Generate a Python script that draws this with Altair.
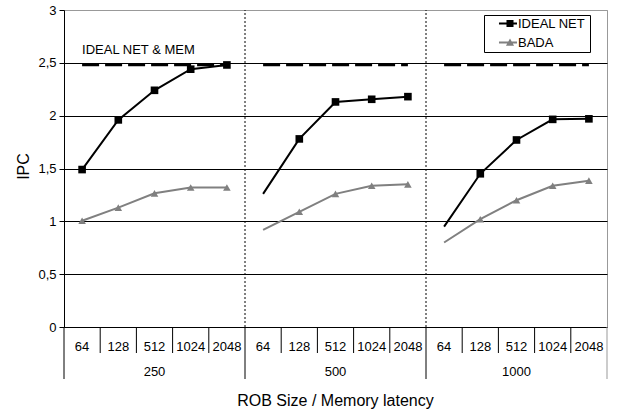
import altair as alt
import pandas as pd

# ROB sizes (inner axis level) and memory latencies (outer axis level)
rob_sizes = ["64", "128", "512", "1024", "2048"]
latencies = ["250", "500", "1000"]

# IPC per configuration, latency groups in order
ideal_net = [1.49, 1.96, 2.24, 2.44, 2.48,
             1.26, 1.78, 2.13, 2.155, 2.18,
             0.95, 1.45, 1.77, 1.965, 1.97]
bada = [1.005, 1.13, 1.265, 1.32, 1.32,
        0.92, 1.09, 1.26, 1.337, 1.35,
        0.80, 1.02, 1.20, 1.337, 1.385]
# upper bound: ideal network and ideal memory, one value per latency group
ideal_net_mem = [2.48, 2.48, 2.48]

# points drawn without a marker
unmarked = [("500", "64"), ("1000", "64")]

series_names = ["IDEAL NET", "BADA"]
series_colors = ["#000000", "#808080"]

FONT = "Liberation Sans"

rows = []
for g, lat in enumerate(latencies):
    for r, rob in enumerate(rob_sizes):
        i = g * 5 + r
        for name, vals in zip(series_names, [ideal_net, bada]):
            rows.append({
                "latency": lat, "rob": rob, "pos": i + 0.5,
                "series": name, "ipc": vals[i],
                "marked": (lat, rob) not in unmarked,
            })
df = pd.DataFrame(rows)

mem_rows = []
for g, lat in enumerate(latencies):
    for r in (0, 4):
        mem_rows.append({"latency": lat, "pos": g * 5 + r + 0.5, "ipc": ideal_net_mem[g]})
mem_df = pd.DataFrame(mem_rows)

inner_labels = pd.DataFrame({
    "pos": [g * 5 + r + 0.5 for g in range(3) for r in range(5)],
    "label": [rob for _ in latencies for rob in rob_sizes],
})
outer_labels = pd.DataFrame({
    "pos": [g * 5 + 2.5 for g in range(3)],
    "label": latencies,
})
inner_bounds = pd.DataFrame({"pos": [b for b in range(1, 15) if b % 5 != 0]})
outer_bounds = pd.DataFrame({"pos": [0, 5, 10, 15],
                             "col": ["#000000", "#000000", "#000000", "#999999"]})
group_bounds = pd.DataFrame({"pos": [5, 10], "lo": [0, 0], "hi": [3, 3]})

xscale = alt.Scale(domain=[0, 15], nice=False, zero=False)
yscale = alt.Scale(domain=[0, 3], nice=False)

x_enc = alt.X("pos:Q", scale=xscale,
              axis=alt.Axis(labels=False, ticks=False, grid=False, domain=True,
                            domainColor="black", title="ROB Size / Memory latency",
                            titleFont=FONT, titleFontSize=16, titleFontWeight="normal",
                            titleColor="black", titleX=271, titleY=78,
                            titleBaseline="alphabetic", titleAlign="center"))
y_enc = alt.Y("ipc:Q", scale=yscale,
              axis=alt.Axis(values=[0, 0.5, 1, 1.5, 2, 2.5, 3],
                            labelExpr="replace(toString(datum.value), '.', ',')",
                            labelFont=FONT, labelFontSize=13, labelColor="black",
                            labelPadding=3, tickSize=5, tickColor="black",
                            domainColor="black", grid=True,
                            gridColor={"condition": {"test": "datum.value == 3", "value": "#999999"},
                                       "value": "#000000"},
                            gridWidth=1, title="IPC", titleFont=FONT, titleFontSize=16,
                            titleFontWeight="normal", titleColor="black",
                            titleX=-36, titleY=156, titleBaseline="alphabetic",
                            titleAlign="center", titleAngle=-90))

base = alt.Chart(df)

dotted = alt.Chart(group_bounds).mark_rule(color="black", strokeWidth=1, strokeDash=[2, 2]).encode(
    x=alt.X("pos:Q", scale=xscale), y=alt.Y("lo:Q", scale=yscale), y2="hi:Q")

mem_line = alt.Chart(mem_df).mark_line(color="black", strokeWidth=2.8, strokeDash=[17, 6]).encode(
    x=x_enc, y=y_enc, detail="latency:N")

line_layers = []
marker_layers = []
for name, col, shape, size in zip(series_names, series_colors,
                                  ["square", "triangle-up"], [58, 58]):
    sub = base.transform_filter(alt.datum.series == name)
    line_layers.append(sub.mark_line(color=col, strokeWidth=2).encode(
        x=x_enc, y=y_enc, detail="latency:N"))
    marker_layers.append(sub.transform_filter(alt.datum.marked).mark_point(
        filled=True, color=col, shape=shape, size=size, opacity=1).encode(x=x_enc, y=y_enc))

annot = alt.Chart(pd.DataFrame({"pos": [0.5], "ipc": [2.58], "t": ["IDEAL NET & MEM"]})).mark_text(
    align="left", baseline="alphabetic", font=FONT, fontSize=13, color="black").encode(
    x=x_enc, y=y_enc, text="t:N")

inner_ticks = alt.Chart(inner_bounds).mark_rule(color="black", strokeWidth=1).encode(
    x=alt.X("pos:Q", scale=xscale), y=alt.value(317), y2=alt.value(343))
outer_ticks = alt.Chart(outer_bounds).mark_rule(strokeWidth=1).encode(
    x=alt.X("pos:Q", scale=xscale), y=alt.value(317), y2=alt.value(369),
    color=alt.Color("col:N", scale=None))

inner_text = alt.Chart(inner_labels).mark_text(font=FONT, fontSize=13, color="black",
                                               baseline="alphabetic").encode(
    x=alt.X("pos:Q", scale=xscale), y=alt.value(340.5), text="label:N")
outer_text = alt.Chart(outer_labels).mark_text(font=FONT, fontSize=13, color="black",
                                               baseline="alphabetic").encode(
    x=alt.X("pos:Q", scale=xscale), y=alt.value(366), text="label:N")

# legend symbols: short line with the series marker on it
sym_square = "M1.44,-0.22H5.44V0.22H1.44Z M3.11,-0.78H4.67V0.78H3.11Z"
sym_tri = "M1.44,-0.22H5.44V0.22H1.44Z M3.89,-0.9L4.79,0.7H2.99Z"
leg = alt.Legend(orient="none", legendX=420, legendY=5, title="\u00a0",
                 titleOrient="right", titlePadding=3, titleFontSize=13,
                 strokeColor="black", fillColor="white", padding=2,
                 labelFont=FONT, labelFontSize=13, labelColor="black",
                 labelOffset=19, rowPadding=5, symbolSize=81, symbolStrokeWidth=0,
                 symbolOpacity=1)
legend_layer = base.transform_filter("false").mark_point(filled=True, opacity=1).encode(
    x=x_enc, y=y_enc,
    color=alt.Color("series:N", scale=alt.Scale(domain=series_names, range=series_colors),
                    legend=leg),
    shape=alt.Shape("series:N", scale=alt.Scale(domain=series_names, range=[sym_square, sym_tri]),
                    legend=leg))

chart = alt.layer(
    dotted, mem_line, *line_layers, *marker_layers, annot,
    inner_ticks, outer_ticks, inner_text, outer_text, legend_layer
).properties(
    width=543, height=317,
    autosize=alt.AutoSizeParams(type="none"),
    padding={"left": 64, "top": 10, "right": 11, "bottom": 85},
    background="white",
).configure_view(stroke="#999999", strokeWidth=1)

chart.save("out.html", embed_options={"renderer": "svg", "actions": False})
